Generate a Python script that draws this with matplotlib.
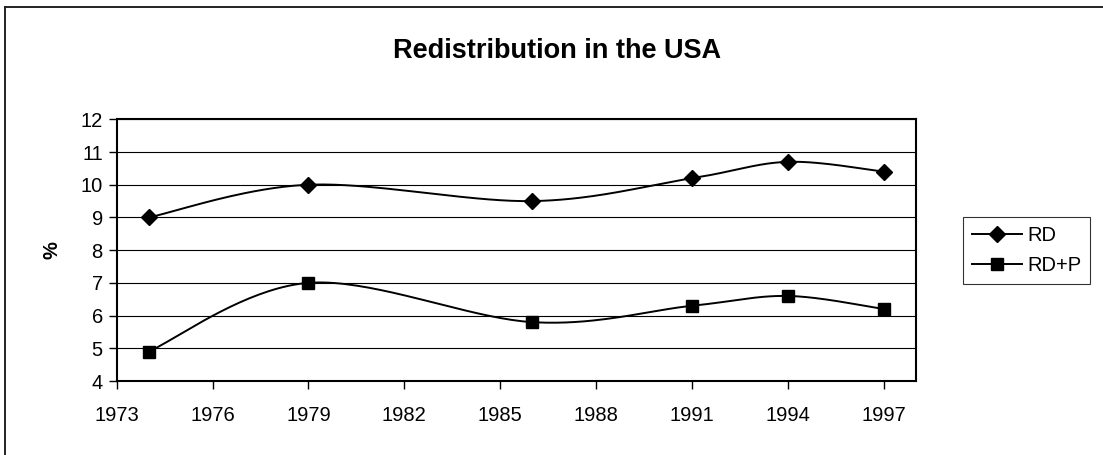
import numpy as np
import matplotlib.pyplot as plt
from matplotlib.lines import Line2D

plt.rcParams['font.family'] = ['Liberation Sans', 'DejaVu Sans']

# data
years = [1974, 1979, 1986, 1991, 1994, 1997]
rd = [9.0, 10.0, 9.5, 10.2, 10.7, 10.4]
rd_p = [4.9, 7.0, 5.8, 6.3, 6.6, 6.2]
xticks = list(range(1973, 1998, 3))


def smooth(x, y, n=40):
    # Excel-style smoothed line (Catmull-Rom as cubic Bezier)
    p = np.column_stack([x, y]).astype(float)
    p = np.vstack([p[0], p, p[-1]])
    t = np.linspace(0, 1, n)[:, None]
    out = []
    for i in range(1, len(p) - 2):
        p0, p1, p2, p3 = p[i - 1], p[i], p[i + 1], p[i + 2]
        c1 = p1 + (p2 - p0) / 6
        c2 = p2 - (p3 - p1) / 6
        seg = ((1 - t) ** 3) * p1 + 3 * ((1 - t) ** 2) * t * c1 + 3 * (1 - t) * t ** 2 * c2 + t ** 3 * p2
        out.append(seg)
    out = np.vstack(out)
    return out[:, 0], out[:, 1]


fig = plt.figure(figsize=(11.03, 4.55), dpi=100)
ax = fig.add_axes([0.1058, 0.1626, 0.7244, 0.5752])

for vals, mk, ms, lab in [(rd, 'D', 8, 'RD'), (rd_p, 's', 9, 'RD+P')]:
    sx, sy = smooth(years, vals)
    ax.plot(sx, sy, color='black', lw=1.4, zorder=3)
    ax.plot(years, vals, linestyle='none', marker=mk, ms=ms, color='black', zorder=4)

ax.set_xlim(1973, 1998)
ax.set_ylim(4, 12)
ax.set_xticks(xticks)
ax.set_yticks(range(4, 13))
ax.tick_params(labelsize=14.5, length=6, width=1, direction='out', pad=12)
ax.tick_params(axis='y', pad=4)
ax.grid(axis='y', color='black', lw=0.8, zorder=1)
for s in ax.spines.values():
    s.set_linewidth(1.5)
ax.set_ylabel('%', fontsize=14.5, fontweight='bold', labelpad=14)

handles = [Line2D([], [], color='black', lw=1.4, marker='D', ms=8),
           Line2D([], [], color='black', lw=1.4, marker='s', ms=9)]
leg = ax.legend(handles, ['RD', 'RD+P'], loc='center left', bbox_to_anchor=(1.059, 0.5),
                fontsize=14.5, frameon=True, fancybox=False, edgecolor='black',
                handlelength=2.5, handletextpad=0.25, borderpad=0.45, labelspacing=0.55,
                borderaxespad=0)
leg.get_frame().set_linewidth(0.8)

fig.text(0.505, 1 - 58 / 455, 'Redistribution in the USA', ha='center', va='baseline',
         fontsize=19.5, fontweight='bold')

# outer chart frame (cropped at right and bottom)
fig.add_artist(Line2D([5 / 1103, 5 / 1103], [0, 1 - 7 / 455], transform=fig.transFigure,
                      color='#222222', lw=1.4))
fig.add_artist(Line2D([5 / 1103, 1], [1 - 7 / 455, 1 - 7 / 455], transform=fig.transFigure,
                      color='#222222', lw=1.4))

fig.savefig('out.png', dpi=100)
